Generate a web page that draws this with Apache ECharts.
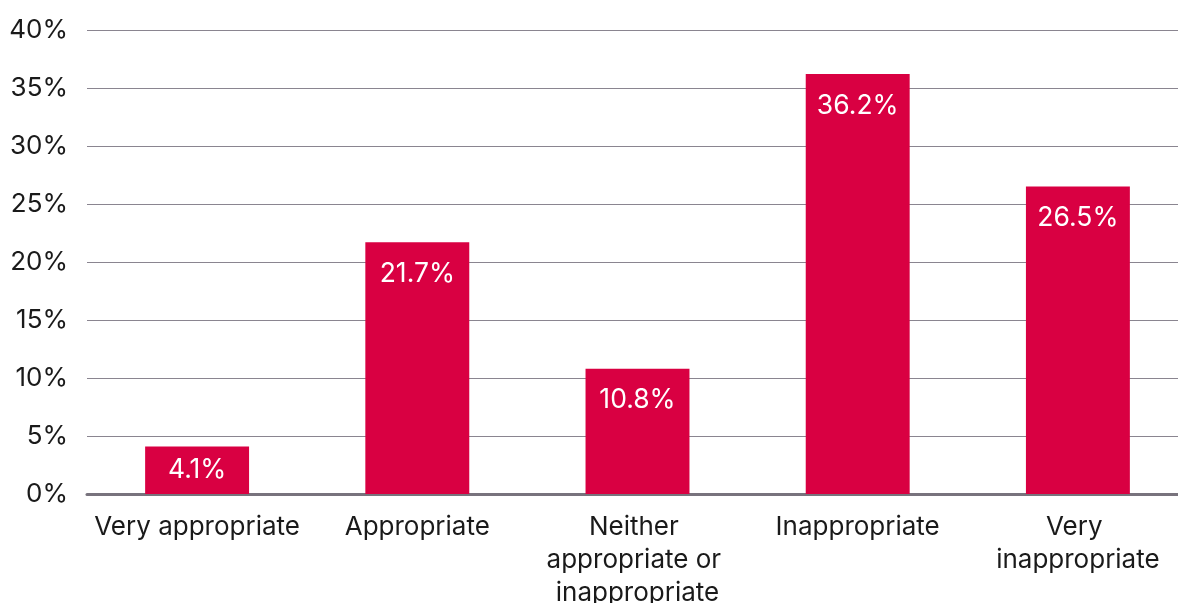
<!DOCTYPE html>
<html>
<head>
<meta charset="utf-8">
<script src="https://cdn.jsdelivr.net/npm/echarts@6/dist/echarts.min.js"></script>
<style>
html,body{margin:0;padding:0;background:#fff;}
#chart{width:1178px;height:603px;}
</style>
</head>
<body>
<div id="chart"></div>
<script>
const categories = ["Very appropriate", "Appropriate", "Neither appropriate or inappropriate", "Inappropriate", "Very inappropriate"];
const values = [4.1, 21.7, 10.8, 36.2, 26.5];
const yTicks = [0, 5, 10, 15, 20, 25, 30, 35, 40];

const FONT = "Inter, Liberation Sans, Arial, sans-serif";
const chart = echarts.init(document.getElementById('chart'));
chart.setOption({
  animation: false,
  grid: { left: 87, right: -10, top: 30, bottom: 109, containLabel: false, outerBoundsMode: 'none' },
  xAxis: {
    type: 'category',
    data: categories,
    axisTick: { show: false },
    axisLine: { lineStyle: { color: '#78737d', width: 3 } },
    axisLabel: {
      color: '#1a1a1a', fontSize: 26, fontFamily: FONT, interval: 0,
      margin: 17, lineHeight: 33, width: 214, overflow: 'break'
    }
  },
  yAxis: {
    type: 'value',
    min: yTicks[0], max: yTicks[yTicks.length - 1], interval: 5,
    axisLine: { show: false },
    axisTick: { show: false },
    splitLine: { lineStyle: { color: '#8a8590', width: 1 } },
    axisLabel: {
      color: '#1a1a1a', fontSize: 26, fontFamily: FONT, margin: 19,
      formatter: v => v + '%'
    }
  },
  series: [{
    type: 'bar',
    data: values.map(v => v < 5 ? { value: v, label: { position: 'inside' } } : v),
    barWidth: '47.2%',
    itemStyle: { color: '#d90042' },
    label: {
      show: true, position: 'insideTop', distance: 18,
      color: '#ffffff', fontSize: 26.5, fontFamily: FONT,
      formatter: p => p.value.toFixed(1) + '%'
    }
  }]
});
</script>
</body>
</html>
